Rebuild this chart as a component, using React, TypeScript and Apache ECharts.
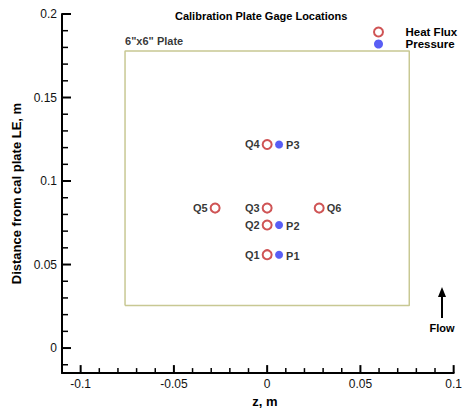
import React, { useEffect, useRef } from "react";
import * as echarts from "echarts";

// ---- data ----
const heatFluxNames = ["Q1", "Q2", "Q3", "Q4", "Q5", "Q6"];
const heatFluxZ = [0, 0, 0, 0, -0.0279, 0.0279];
const heatFluxY = [0.0559, 0.0737, 0.0838, 0.1219, 0.0838, 0.0838];

const pressureNames = ["P1", "P2", "P3"];
const pressureZ = [0.0064, 0.0064, 0.0064];
const pressureY = [0.0559, 0.0737, 0.1219];

// 6"x6" plate outline corners (z, y)
const plateZ = [-0.0762, 0.0762, 0.0762, -0.0762, -0.0762];
const plateY = [0.0254, 0.0254, 0.1778, 0.1778, 0.0254];

const xMajorTicks = [-0.1, -0.05, 0, 0.05, 0.1];
const xMinorTicks = [
  -0.09, -0.08, -0.07, -0.06, -0.04, -0.03, -0.02, -0.01,
  0.01, 0.02, 0.03, 0.04, 0.06, 0.07, 0.08, 0.09,
];
const yMajorTicks = [0, 0.05, 0.1, 0.15, 0.2];
const yMinorTicks = [
  -0.01, 0.01, 0.02, 0.03, 0.04, 0.06, 0.07, 0.08, 0.09, 0.11,
  0.12, 0.13, 0.14, 0.16, 0.17, 0.18, 0.19,
];

const FONT = "'Liberation Sans', Arial, Helvetica, sans-serif";

export default function App() {
  const ref = useRef<HTMLDivElement>(null);
  useEffect(() => {
    if (!ref.current) return;
    const chart = echarts.init(ref.current, undefined, { renderer: "svg" });
    const fmt = (v: number) => String(+Number(v).toFixed(3));
    const xMin = -0.11, xMax = 0.1, yMin = -0.015, yMax = 0.2;

    const hfData = heatFluxNames.map((n, i) => ({
      name: n,
      value: [heatFluxZ[i], heatFluxY[i]],
      label: { position: heatFluxZ[i] > 0 ? "right" : "left" },
    }));
    const pData = pressureNames.map((n, i) => ({
      name: n,
      value: [pressureZ[i], pressureY[i]],
    }));
    const plateData = plateZ.map((z, i) => [z, plateY[i]]);

    const markerLabel = {
      show: true,
      formatter: "{b}",
      color: "#000",
      fontFamily: FONT,
      fontWeight: "bold",
      fontSize: 11,
      distance: 2,
    };

    const flowGraphics: any[] = [
      {
        id: "flowLine",
        type: "line",
        shape: { x1: 442, y1: 318, x2: 442, y2: 294 },
        style: { stroke: "#000", lineWidth: 2 },
      },
      {
        id: "flowHead",
        type: "polygon",
        shape: { points: [[438, 297], [446, 297], [442, 287]] },
        style: { fill: "#000" },
      },
      {
        id: "flowText",
        type: "text",
        x: 442,
        y: 328,
        style: {
          text: "Flow",
          align: "center",
          verticalAlign: "middle",
          fontFamily: FONT,
          fontSize: 11,
          fontWeight: "bold",
          fill: "#000",
        },
      },
    ];

    chart.setOption({
      animation: false,
      backgroundColor: "#fff",
      title: {
        text: "Calibration Plate Gage Locations",
        left: 170,
        top: 5,
        textStyle: { fontFamily: FONT, fontSize: 11, fontWeight: "bold", color: "#000" },
      },
      legend: {
        data: ["Heat Flux", "Pressure"],
        orient: "vertical",
        left: 368,
        top: 21,
        itemWidth: 10,
        itemHeight: 9,
        itemGap: 0,
        textStyle: {
          fontFamily: FONT,
          fontSize: 11.5,
          lineHeight: 11.5,
          fontWeight: "bold",
          color: "#000",
          padding: [0, 0, 0, 17],
        },
      },
      grid: { left: 62, right: 8, top: 14, bottom: 36, containLabel: false },
      xAxis: {
        type: "value",
        min: xMin,
        max: xMax,
        position: "bottom",
        name: "z, m",
        nameLocation: "middle",
        nameGap: 19,
        nameTextStyle: {
          fontFamily: FONT, fontSize: 13, fontWeight: "bold", color: "#000",
          padding: [0, 0, 0, 14],
        },
        axisLine: { show: true, onZero: false, lineStyle: { color: "#000", width: 2 } },
        axisTick: { show: false },
        axisLabel: {
          customValues: xMajorTicks, margin: 5, formatter: fmt,
          fontFamily: FONT, fontSize: 12, color: "#111",
        },
        splitLine: { show: false },
      },
      yAxis: {
        type: "value",
        min: yMin,
        max: yMax,
        position: "left",
        name: "Distance from cal plate LE, m",
        nameLocation: "middle",
        nameGap: 35,
        nameTextStyle: { fontFamily: FONT, fontSize: 13, fontWeight: "bold", color: "#000" },
        axisLine: { show: true, onZero: false, lineStyle: { color: "#000", width: 2 } },
        axisTick: { show: false },
        axisLabel: {
          customValues: yMajorTicks, margin: 5, formatter: fmt,
          fontFamily: FONT, fontSize: 12, color: "#111",
        },
        splitLine: { show: false },
      },
      series: [
        {
          name: "Plate",
          type: "line",
          data: plateData,
          symbol: "none",
          lineStyle: { color: "#c8c893", width: 1.5 },
          silent: true,
          z: 1,
        },
        {
          name: "PlateLabel",
          type: "scatter",
          data: [[plateZ[3], plateY[3]]],
          symbolSize: 0,
          silent: true,
          label: {
            show: true,
            position: [0, -10],
            align: "left",
            verticalAlign: "middle",
            formatter: '6"x6" Plate',
            fontFamily: FONT,
            fontSize: 11,
            fontWeight: "bold",
            color: "#000",
          },
        },
        {
          name: "Heat Flux",
          type: "scatter",
          data: hfData,
          symbol: "circle",
          symbolSize: 9,
          itemStyle: { color: "#ffffff", borderColor: "#c3292b", borderWidth: 2 },
          label: { ...markerLabel, position: "left" },
          z: 3,
        },
        {
          name: "Pressure",
          type: "scatter",
          data: pData,
          symbol: "circle",
          symbolSize: 8,
          itemStyle: { color: "#2f36f2" },
          label: { ...markerLabel, position: "right", distance: 3, offset: [0, 1] },
          z: 3,
        },
      ],
      graphic: flowGraphics,
    });

    // ticks placed through the chart's own scales
    const tickGraphics: any[] = [];
    const addX = (vals: number[], len: number, w: number, tag: string) =>
      vals.forEach((v, i) => {
        const p = chart.convertToPixel({ gridIndex: 0 }, [v, yMin]) as number[];
        tickGraphics.push({
          id: tag + i,
          type: "line",
          z: 100,
          shape: { x1: p[0], y1: p[1], x2: p[0], y2: p[1] - len },
          style: { stroke: "#000", lineWidth: w },
        });
      });
    const addY = (vals: number[], len: number, w: number, tag: string) =>
      vals.forEach((v, i) => {
        const p = chart.convertToPixel({ gridIndex: 0 }, [xMin, v]) as number[];
        tickGraphics.push({
          id: tag + i,
          type: "line",
          z: 100,
          shape: { x1: p[0], y1: p[1], x2: p[0] + len, y2: p[1] },
          style: { stroke: "#000", lineWidth: w },
        });
      });
    try {
      addX(xMajorTicks, 8, 2, "xM");
      addX(xMinorTicks, 5, 1.5, "xm");
      addY(yMajorTicks, 9, 2, "yM");
      addY(yMinorTicks, 6, 1.5, "ym");
      chart.setOption({ graphic: [...flowGraphics, ...tickGraphics] });
    } catch (e) {
      // leave the axes without ticks if conversion is unavailable
    }

    return () => chart.dispose();
  }, []);
  return (
    <div
      ref={ref}
      style={{ position: "fixed", left: 0, top: 0, width: 465, height: 413 }}
    />
  );
}
